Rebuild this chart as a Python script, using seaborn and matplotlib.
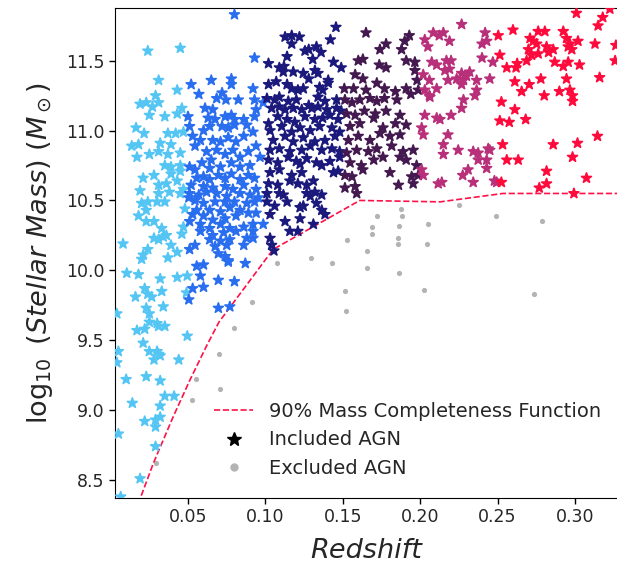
#!/usr/bin/env python3

from matplotlib import pyplot as plt
from matplotlib.lines import Line2D
import numpy as np
import pandas as pd
import seaborn as sns


# redshift bins and their colours
bin_labels = ["z<0.05", "0.05-0.10", "0.10-0.15", "0.15-0.20", "0.20-0.25", "z>0.25"]
bin_colors = ["#55c6f4", "#2a6ef0", "#1b1a7c", "#43194f", "#b8307a", "#ff0a3c"]

# included AGN
z_b1 = [0.024, 0.045, 0.031, 0.043, 0.029, 0.019, 0.023, 0.027, 0.031, 0.025,
        0.046, 0.043, 0.035, 0.0164, 0.0216, 0.037, 0.042, 0.047, 0.0136, 0.018,
        0.032, 0.039, 0.017, 0.025, 0.031, 0.037, 0.045, 0.035, 0.039, 0.045,
        0.039, 0.045, 0.028, 0.021, 0.031, 0.036, 0.043, 0.019, 0.031, 0.038,
        0.045, 0.047, 0.020, 0.024, 0.030, 0.035, 0.023, 0.048, 0.018, 0.023,
        0.028, 0.033, 0.047, 0.028, 0.031, 0.034, 0.036, 0.039, 0.046, 0.008,
        0.024, 0.021, 0.020, 0.037, 0.043, 0.0104, 0.018, 0.032, 0.043, 0.0495,
        0.022, 0.016, 0.024, 0.0265, 0.033, 0.023, 0.025, 0.034, 0.004, 0.025,
        0.031, 0.035, 0.049, 0.017, 0.022, 0.030, 0.0495, 0.005, 0.004, 0.021,
        0.025, 0.030, 0.031, 0.028, 0.032, 0.044, 0.010, 0.023, 0.032, 0.035,
        0.041, 0.014, 0.032, 0.022, 0.029, 0.032, 0.029, 0.005, 0.029, 0.019,
        0.0065]
m_b1 = [11.57, 11.59, 11.36, 11.29, 11.25, 11.19, 11.20, 11.17, 11.20, 11.11,
        11.16, 11.12, 11.10, 11.02, 10.98, 10.98, 10.98, 10.99, 10.89, 10.90,
        10.91, 10.90, 10.81, 10.83, 10.85, 10.83, 10.84, 10.75, 10.74, 10.75,
        10.69, 10.71, 10.68, 10.66, 10.61, 10.62, 10.64, 10.57, 10.55, 10.56,
        10.55, 10.58, 10.48, 10.49, 10.49, 10.49, 10.43, 10.44, 10.39, 10.35,
        10.35, 10.30, 10.31, 10.23, 10.22, 10.24, 10.25, 10.18, 10.26, 10.19,
        10.15, 10.11, 10.08, 10.09, 10.13, 9.98, 9.97, 9.94, 9.95, 9.96,
        9.87, 9.81, 9.83, 9.81, 9.85, 9.73, 9.69, 9.74, 9.69, 9.63,
        9.60, 9.60, 9.84, 9.57, 9.58, 9.62, 9.53, 9.42, 9.34, 9.48,
        9.42, 9.42, 9.40, 9.36, 9.39, 9.36, 9.22, 9.24, 9.21, 9.10,
        9.10, 9.05, 9.03, 8.92, 8.93, 8.95, 8.88, 8.83, 8.74, 8.51,
        8.38]

z_b2 = [0.080, 0.093, 0.065, 0.078, 0.078, 0.052, 0.057, 0.092, 0.0685, 0.072,
        0.0745, 0.0825, 0.093, 0.061, 0.066, 0.0986, 0.050, 0.063, 0.0675, 0.074,
        0.078, 0.080, 0.086, 0.094, 0.093, 0.051, 0.060, 0.064, 0.072, 0.076,
        0.080, 0.088, 0.092, 0.053, 0.058, 0.066, 0.071, 0.076, 0.081, 0.086,
        0.0545, 0.062, 0.0685, 0.074, 0.079, 0.0836, 0.089, 0.094, 0.0965, 0.059,
        0.065, 0.071, 0.078, 0.0836, 0.090, 0.051, 0.0545, 0.064,
        0.0556, 0.060, 0.064, 0.0696, 0.074, 0.078, 0.0836, 0.089, 0.093,
        0.052, 0.060, 0.066, 0.074, 0.079, 0.086, 0.094,
        0.051, 0.057, 0.062, 0.0685, 0.075, 0.0836, 0.090, 0.0954,
        0.0505, 0.0545, 0.060, 0.0675, 0.074, 0.080, 0.088, 0.093,
        0.0556, 0.064, 0.071, 0.077, 0.0836, 0.089,
        0.053, 0.060, 0.066, 0.074, 0.081, 0.094,
        0.051, 0.058, 0.064, 0.071, 0.077, 0.086, 0.092, 0.0986,
        0.058, 0.066, 0.073, 0.081, 0.092,
        0.064, 0.071, 0.077, 0.088, 0.092,
        0.0545, 0.0675, 0.075, 0.086,
        0.051, 0.0696, 0.074, 0.076,
        0.0556, 0.060, 0.076, 0.087,
        0.058, 0.0696, 0.080, 0.053, 0.060, 0.0505, 0.0696, 0.077]
m_b2 = [11.83, 11.52, 11.36, 11.37, 11.33, 11.33, 11.26, 11.30, 11.23, 11.27,
        11.22, 11.22, 11.22, 11.16, 11.15, 11.20, 11.10, 11.09, 11.08, 11.10,
        11.11, 11.08, 11.08, 11.15, 11.10, 11.03, 11.00, 11.03, 11.03, 11.02,
        11.04, 11.04, 10.99, 10.96, 10.93, 10.93, 10.92, 10.95, 10.92, 10.96,
        10.89, 10.85, 10.86, 10.83, 10.86, 10.81, 10.85, 10.89, 10.81, 10.77,
        10.79, 10.74, 10.77, 10.74, 10.75, 10.74, 10.72, 10.73,
        10.66, 10.67, 10.65, 10.68, 10.66, 10.69, 10.65, 10.68, 10.66,
        10.61, 10.60, 10.59, 10.60, 10.58, 10.61, 10.58,
        10.55, 10.54, 10.56, 10.55, 10.53, 10.55, 10.54, 10.52,
        10.52, 10.50, 10.48, 10.49, 10.49, 10.49, 10.48, 10.49,
        10.43, 10.43, 10.42, 10.45, 10.43, 10.41,
        10.40, 10.39, 10.36, 10.37, 10.39, 10.41,
        10.35, 10.33, 10.30, 10.33, 10.30, 10.31, 10.33, 10.33,
        10.28, 10.25, 10.27, 10.28, 10.28,
        10.22, 10.21, 10.22, 10.23, 10.23,
        10.18, 10.17, 10.18, 10.18,
        10.15, 10.12, 10.10, 10.07,
        10.03, 10.04, 10.06, 10.05,
        9.96, 9.93, 9.92, 9.87, 9.88, 9.79, 9.73, 9.74]

z_b3 = [0.1456, 0.1127, 0.117, 0.122, 0.117, 0.142, 0.1256, 0.128, 0.133, 0.136,
        0.1306, 0.114, 0.102, 0.109, 0.112, 0.1116, 0.118, 0.144, 0.149, 0.1245,
        0.132, 0.134, 0.1406, 0.128, 0.102, 0.107, 0.114, 0.117, 0.121, 0.1245,
        0.135, 0.1406, 0.137, 0.101, 0.106, 0.109, 0.1148, 0.120, 0.128, 0.134,
        0.1385, 0.146,
        0.104, 0.109, 0.1127, 0.118, 0.1235, 0.130, 0.134, 0.1396, 0.146, 0.149,
        0.102, 0.108, 0.114, 0.119, 0.1256, 0.132, 0.137, 0.1417, 0.147,
        0.103, 0.1105, 0.117, 0.1224, 0.129, 0.135, 0.143, 0.148,
        0.105, 0.1127, 0.118, 0.1245, 0.132, 0.1385, 0.145,
        0.103, 0.109, 0.1158, 0.1235, 0.129, 0.1364, 0.143, 0.148,
        0.102, 0.108, 0.1148, 0.120, 0.1267, 0.133, 0.1417, 0.148,
        0.1224, 0.1364,
        0.103, 0.109, 0.117, 0.1235, 0.144, 0.147,
        0.102, 0.108, 0.1158, 0.121, 0.1267, 0.131,
        0.101, 0.109, 0.114, 0.1116, 0.1267, 0.129, 0.132, 0.1364,
        0.101, 0.106, 0.1224, 0.1245, 0.133, 0.1364,
        0.103, 0.1127, 0.1224, 0.1385,
        0.1158, 0.121, 0.131,
        0.103, 0.104, 0.1055]
m_b3 = [11.74, 11.67, 11.68, 11.67, 11.62, 11.65, 11.57, 11.58, 11.60, 11.56,
        11.51, 11.53, 11.48, 11.45, 11.46, 11.42, 11.42, 11.49, 11.45, 11.41,
        11.43, 11.41, 11.36, 11.37, 11.33, 11.35, 11.33, 11.30, 11.29, 11.30,
        11.31, 11.34, 11.29, 11.23, 11.22, 11.24, 11.21, 11.22, 11.18, 11.24,
        11.21, 11.22,
        11.16, 11.17, 11.15, 11.16, 11.15, 11.16, 11.17, 11.15, 11.16, 11.14,
        11.05, 11.10, 11.08, 11.06, 11.10, 11.08, 11.09, 11.11, 11.08,
        11.00, 11.03, 10.99, 11.02, 11.00, 11.03, 11.02, 10.99,
        10.93, 10.96, 10.92, 10.95, 10.92, 10.93, 10.96,
        10.86, 10.87, 10.85, 10.86, 10.89, 10.86, 10.87, 10.85,
        10.79, 10.77, 10.81, 10.78, 10.80, 10.77, 10.78, 10.81,
        10.76, 10.75,
        10.70, 10.72, 10.68, 10.70, 10.70, 10.71,
        10.62, 10.61, 10.64, 10.62, 10.61, 10.64,
        10.55, 10.55, 10.49, 10.54, 10.55, 10.53, 10.56, 10.54,
        10.49, 10.46, 10.45, 10.46, 10.48, 10.43,
        10.40, 10.35, 10.37, 10.40,
        10.28, 10.28, 10.33,
        10.23, 10.18, 10.14]

z_b4 = [0.165, 0.174, 0.178, 0.160, 0.163, 0.1736, 0.178, 0.158, 0.163, 0.151,
        0.157, 0.165, 0.172, 0.177, 0.184,
        0.1514, 0.156, 0.161, 0.1676, 0.172, 0.177, 0.185,
        0.1525, 0.158, 0.164, 0.171, 0.178, 0.187,
        0.1547, 0.161, 0.170, 0.176, 0.184, 0.191,
        0.1536, 0.160, 0.1676, 0.174, 0.1805, 0.187,
        0.1525, 0.159, 0.1665, 0.172, 0.1816, 0.189, 0.1955,
        0.1547, 0.162, 0.170, 0.176, 0.187, 0.191,
        0.193, 0.190, 0.188, 0.191, 0.1966, 0.198, 0.191, 0.194, 0.1966, 0.1988,
        0.1514, 0.156, 0.163, 0.1805, 0.1945, 0.1955, 0.186, 0.1514, 0.158, 0.159,
        0.1977, 0.1988]
m_b4 = [11.70, 11.58, 11.62, 11.50, 11.51, 11.47, 11.45, 11.40, 11.37, 11.30,
        11.30, 11.29, 11.34, 11.30, 11.28,
        11.22, 11.20, 11.22, 11.23, 11.21, 11.23, 11.22,
        11.12, 11.11, 11.14, 11.12, 11.14, 11.11,
        11.03, 11.05, 11.09, 11.02, 11.05, 11.04,
        10.93, 10.96, 10.93, 10.98, 10.96, 10.97,
        10.84, 10.86, 10.85, 10.87, 10.89, 10.85, 10.86,
        10.77, 10.75, 10.79, 10.81, 10.81, 10.79,
        11.68, 11.64, 11.58, 11.50, 11.49, 11.36, 11.30, 11.26, 11.43, 11.29,
        10.68, 10.67, 10.72, 10.70, 10.67, 10.62, 10.61, 10.59, 10.60, 10.55,
        10.75, 10.68]

z_b5 = [0.203, 0.205, 0.2075, 0.2107, 0.2085, 0.202, 0.206, 0.203, 0.206, 0.2107,
        0.203, 0.201, 0.202, 0.2107,
        0.215, 0.2124, 0.2268, 0.219, 0.242, 0.240, 0.243,
        0.217, 0.220, 0.240, 0.247,
        0.216, 0.219, 0.2268, 0.232, 0.230, 0.2236,
        0.218, 0.228, 0.2365, 0.245, 0.2268, 0.2063, 0.2365, 0.2354,
        0.228, 0.2268, 0.220, 0.2128,
        0.218, 0.215, 0.215, 0.2246, 0.2343, 0.2375, 0.244, 0.245,
        0.2375, 0.243, 0.231, 0.243, 0.2275, 0.214, 0.2343, 0.248, 0.2495,
        0.201, 0.202, 0.2117]
m_b5 = [11.65, 11.60, 11.49, 11.47, 11.70, 11.40, 11.36, 11.29, 11.25, 11.30,
        11.11, 11.02, 10.97, 11.09,
        11.70, 11.68, 11.76, 11.64, 11.70, 11.62, 11.64,
        11.50, 11.50, 11.52, 11.49,
        11.43, 11.44, 11.41, 11.42, 11.39, 11.37,
        11.36, 11.36, 11.36, 11.37, 11.33, 11.24, 11.29, 11.25,
        11.22, 11.16, 11.11, 11.08,
        10.97, 10.90, 10.83, 10.86, 10.85, 10.84, 10.87, 10.86,
        10.79, 10.79, 10.72, 10.73, 10.68, 10.63, 10.63, 10.64, 10.63,
        10.72, 10.68, 10.62]

z_b6 = [0.3226, 0.318, 0.315, 0.313, 0.3265, 0.301,
        0.2505, 0.260, 0.2515,
        0.271, 0.273, 0.2763, 0.2806, 0.2753, 0.270, 0.272, 0.2763,
        0.2925, 0.2946, 0.2968, 0.2957, 0.298, 0.302, 0.2817, 0.283, 0.286,
        0.2688, 0.2627, 0.256, 0.262, 0.287, 0.2957, 0.2925, 0.303, 0.326,
        0.2612, 0.2705, 0.278, 0.2656, 0.2802,
        0.2946, 0.290, 0.2968, 0.2985, 0.2985, 0.316,
        0.2525, 0.2612, 0.2515, 0.2576, 0.2682,
        0.2533, 0.256, 0.2634, 0.286, 0.3017, 0.2985, 0.3146,
        0.2817, 0.2817, 0.277, 0.3075, 0.2994, 0.2525]
m_b6 = [11.87, 11.81, 11.75, 11.62, 11.61, 11.84,
        11.68, 11.72, 11.54,
        11.66, 11.64, 11.71, 11.71, 11.62, 11.58, 11.54, 11.55,
        11.71, 11.66, 11.62, 11.60, 11.58, 11.64, 11.60, 11.56, 11.58,
        11.50, 11.48, 11.45, 11.45, 11.49, 11.49, 11.46, 11.47, 11.50,
        11.35, 11.33, 11.37, 11.28, 11.25,
        11.37, 11.28, 11.29, 11.25, 11.21, 11.38,
        11.205, 11.15, 11.07, 11.06, 11.08,
        10.90, 10.79, 10.79, 10.90, 10.91, 10.81, 10.96,
        10.71, 10.62, 10.59, 10.66, 10.55, 10.63]

# excluded AGN (below the completeness limit)
z_excl = [0.1077, 0.1293, 0.1428, 0.1525, 0.1514, 0.152, 0.1658, 0.1654, 0.1688, 0.169,
          0.1723, 0.1878, 0.188, 0.1865, 0.1858, 0.1857, 0.1865, 0.205, 0.2045, 0.2024,
          0.2253, 0.2488, 0.2785, 0.2733, 0.0797, 0.0702, 0.0552, 0.0707, 0.0524, 0.0291,
          0.0912]
m_excl = [10.05, 10.09, 10.05, 10.22, 9.85, 9.71, 10.14, 10.02, 10.31, 10.26,
          10.39, 10.44, 10.39, 10.32, 10.23, 10.19, 9.98, 10.33, 10.19, 9.86,
          10.47, 10.39, 10.35, 9.83, 9.59, 9.40, 9.22, 9.15, 9.07, 8.62,
          9.77]

# 90% mass completeness function
z_compl = [0.012, 0.019, 0.0276, 0.0405, 0.0513, 0.062, 0.070, 0.105, 0.161, 0.213, 0.2535, 0.335]
m_compl = [8.15, 8.365, 8.62, 8.955, 9.217, 9.46, 9.63, 10.15, 10.50, 10.49, 10.55, 10.55]


def main():
    z_bins = [z_b1, z_b2, z_b3, z_b4, z_b5, z_b6]
    m_bins = [m_b1, m_b2, m_b3, m_b4, m_b5, m_b6]
    frames = []
    for label, zz, mm in zip(bin_labels, z_bins, m_bins):
        frames.append(pd.DataFrame({"z": zz, "mass": mm, "bin": label}))
    df = pd.concat(frames, ignore_index=True)
    df_excl = pd.DataFrame({"z": z_excl, "mass": m_excl})

    sns.set_style("ticks")
    plt.rcParams["font.family"] = ["DejaVu Sans"]
    plt.rcParams["mathtext.fontset"] = "dejavusans"

    fig = plt.figure(figsize=(6.17, 5.64), dpi=100)
    ax = fig.add_axes([115 / 617, 66 / 564, 503.2 / 617, 490 / 564])

    sns.scatterplot(data=df_excl, x="z", y="mass", color="#b3b3b3", marker="o",
                    s=14, linewidth=0, ax=ax, zorder=2)
    sns.lineplot(x=z_compl, y=m_compl, color="#ff1048", linestyle="--",
                 linewidth=1.2, sort=False, estimator=None, ax=ax, zorder=3)
    sns.scatterplot(data=df, x="z", y="mass", hue="bin", hue_order=bin_labels,
                    palette=bin_colors, marker="*", s=55, linewidth=1.2,
                    edgecolor="face", legend=False, ax=ax, zorder=4)

    ax.set_xlim(0.0028, 0.328)
    ax.set_ylim(8.371, 11.877)
    ax.set_xticks([0.05, 0.10, 0.15, 0.20, 0.25, 0.30])
    ax.set_xticklabels(["0.05", "0.10", "0.15", "0.20", "0.25", "0.30"])
    ax.set_yticks([8.5, 9.0, 9.5, 10.0, 10.5, 11.0, 11.5])
    ax.tick_params(labelsize=12.5, color="black", length=4, width=1)
    for sp in ax.spines.values():
        sp.set_color("black")

    ax.set_xlabel("Redshift", fontsize=19.5, style="italic", labelpad=8)
    ax.set_ylabel(r"$\log_{10}$ $(Stellar\ Mass)$ $(M_\odot)$", fontsize=19.5,
                  labelpad=8)

    handles = [
        Line2D([], [], color="#ff1048", linestyle="--", linewidth=1.2),
        Line2D([], [], color="black", marker="*", linestyle="", markersize=10),
        Line2D([], [], color="#b3b3b3", marker="o", linestyle="", markersize=5),
    ]
    labels = ["90% Mass Completeness Function", "Included AGN", "Excluded AGN"]
    ax.legend(handles, labels, loc="lower right", frameon=False, fontsize=14,
              bbox_to_anchor=(1.0, 0.005))

    fig.savefig("out.png", dpi=100)


if __name__ == "__main__":
    main()
